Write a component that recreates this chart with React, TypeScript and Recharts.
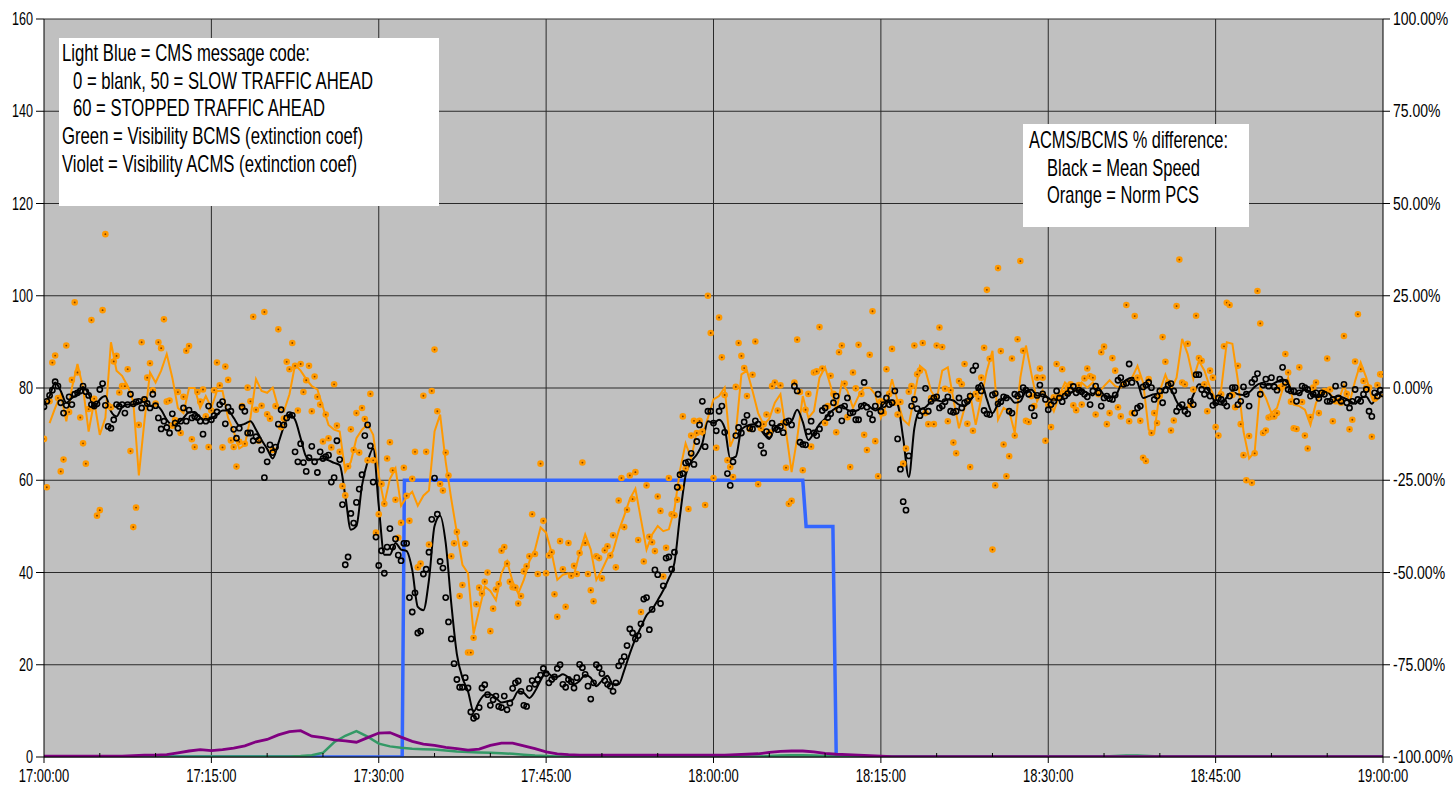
import React from "react";
import {
  CartesianGrid,
  ComposedChart,
  Line,
  Scatter,
  XAxis,
  YAxis,
} from "recharts";

// minutes after 17:00 where the CMS code changes, and the code at that time
const cmsTimes = [0, 32.1, 32.3, 68.0, 68.3, 70.7, 71.0, 120];
const cmsCodes = [0, 0, 60, 60, 50, 50, 0, 0];

// visibility (extinction coef), one value per minute from 17:00 to 19:00
const visBcms = [
  0.1, 0.1, 0.1, 0.1, 0.1, 0.1, 0.1, 0.1, 0.1, 0.1, 0.1, 0.1, 0.1, 0.1, 0.1, 0.1, 0.1, 0.1, 0.1, 0.1,
  0.1, 0.1, 0.1, 0.2, 0.4, 0.9, 3.2, 4.6, 5.6, 4.4, 2.9, 2.3, 2, 1.8, 1.7, 1.6, 1.4, 1.2, 1.1, 1,
  0.9, 0.8, 0.7, 0.5, 0.3, 0.2, 0.1, 0.1, 0.1, 0.1, 0.1, 0.1, 0.1, 0.1, 0.1, 0.1, 0.1, 0.1, 0.1, 0.1,
  0.1, 0.1, 0.1, 0.1, 0.1, 0.2, 0.3, 0.4, 0.4, 0.3, 0.2, 0.1, 0.1, 0.1, 0.1, 0.1, 0.1, 0.1, 0.1, 0.1,
  0.1, 0.1, 0.1, 0.1, 0.1, 0.1, 0.1, 0.1, 0.1, 0.1, 0.1, 0.1, 0.1, 0.1, 0.1, 0.1, 0.2, 0.3, 0.3, 0.2,
  0.1, 0.1, 0.1, 0.1, 0.1, 0.1, 0.1, 0.1, 0.1, 0.1, 0.1, 0.1, 0.1, 0.1, 0.1, 0.1, 0.1, 0.1, 0.1, 0.1,
  0.1,
];
const visAcms = [
  0.2, 0.2, 0.2, 0.2, 0.2, 0.2, 0.2, 0.2, 0.3, 0.4, 0.4, 0.5, 0.9, 1.3, 1.6, 1.4, 1.6, 1.9, 2.4, 3.3,
  3.8, 4.8, 5.5, 5.7, 4.5, 4.2, 3.7, 3.5, 3.2, 4.2, 5.2, 5.3, 4.3, 3.4, 2.8, 2.5, 2.1, 1.8, 1.5, 1.7,
  2.5, 3, 3, 2.4, 1.8, 1.1, 0.7, 0.5, 0.4, 0.4, 0.4, 0.4, 0.4, 0.4, 0.4, 0.4, 0.4, 0.4, 0.4, 0.4,
  0.4, 0.4, 0.5, 0.6, 0.7, 1, 1.2, 1.3, 1.3, 1.1, 0.8, 0.6, 0.5, 0.4, 0.3, 0.2, 0.1, 0.1, 0.1, 0.1,
  0.1, 0.1, 0.1, 0.1, 0.1, 0.1, 0.1, 0.1, 0.1, 0.1, 0.1, 0.1, 0.1, 0.1, 0.1, 0.1, 0.1, 0.1, 0.1, 0.1,
  0.1, 0.1, 0.1, 0.1, 0.1, 0.1, 0.1, 0.1, 0.1, 0.1, 0.1, 0.1, 0.1, 0.1, 0.1, 0.1, 0.1, 0.1, 0.1, 0.1,
  0.1,
];

// ACMS/BCMS % difference, smoothed, every 30 s
const meanSpeedSmooth = [
  -4.5, -2.2, 1.5, -0.8, -4, -2.7, -1.7, 0.3, -1.6, -5.2, -3.1, -2.2, -6.3, -7.7, -5.2, -4.5, -4.5, -4, -3.7, -4.9,
  -4.7, -5.9, -8.6, -10, -9.5, -8.1, -6.6, -6.5, -8, -8.6, -8.3, -7.2, -6.1, -6.1, -8.1, -10.1, -9.7, -9, -11.3, -14.1,
  -16.5, -19.1, -15, -10.4, -7.2, -8.6, -13.6, -18.6, -19.4, -19.4, -19.1, -19.6, -20.3, -20.9, -29.2, -38.4, -37.4, -26.4, -20, -16.4,
  -31.9, -45.2, -45.2, -42, -43.8, -44.2, -49.3, -59.3, -60.2, -52, -37.4, -34.6, -42, -58.4, -72.1, -78.5, -82.2, -87.7, -85, -83.1,
  -83, -84, -85.2, -84.9, -84.5, -82.2, -82.6, -84, -82.2, -79.3, -76.9, -78, -78.3, -77.6, -78.5, -80.3, -79.4, -77.8, -78.5, -80.8,
  -79.3, -78, -80.3, -80.3, -76.5, -72, -68, -64.8, -61.6, -60, -57.5, -54.8, -51.6, -47.4, -34.6, -23.7, -20, -18, -15, -9,
  -9.5, -8.6, -10.8, -19.1, -18.6, -11.3, -10.2, -9.8, -10.4, -12.4, -13.8, -10.7, -10, -10, -9, -5.9, -9.2, -14.1, -12.1, -9.8,
  -8.3, -6.5, -5.4, -4.7, -5.9, -6.3, -5.9, -4, -5.1, -6.1, -5.2, -3.6, -3.4, -4.5, -13.6, -24.1, -10.9, -5.9, -5.2, -3.7,
  -3.3, -3.7, -3.1, -3.4, -4.5, -4.9, -3.4, -1.3, 1.4, -3.1, -6.8, -4.3, -2.8, -2.5, -4, -3.6, -0.8, -0.5, -2.1, -1.7,
  -2.7, -3.4, -2.4, -1.9, -1.3, -0.6, -0.6, -1.3, -2, -0.1, -1.9, -2.4, -2.2, 0.8, 2.2, 2.8, 1.5, -2.7, -2.2, -1.7,
  -2.2, 0.3, -0.4, -3.6, -5.4, -5.2, -1.9, 1, 0.5, -1.3, -4, -4.5, -2.5, -1.1, -1.7, -1.9, -1.2, 0.3, 1.2, 0.8,
  1, 1.7, 2.3, 1.2, -1.7, -1.4, -0.5, -1.1, -2.5, -2.2, -1, -2.5, -2.2, -2.7, -3.4, -4.3, -2.7, -2.4, -4.3, -1.7,
  -1,
];
const normPcsSmooth = [
  null, -9.5, -5.4, -1.7, -9, 0, 6.5, 0, -11.8, -3.6, -12.7, -8.1, 12.4, 4.7, 3.3, 0.5, -3.6, -23.7, -9, 4.2,
  1.5, 4.7, 9.2, 2.8, -5.4, -6.8, 0, 0, -5.4, -2.2, -5.4, -0.8, -0.8, -8.1, -11.8, -16.4, -15.4, -8.1, 2.4, -0.8,
  -1.3, 0.1, -5.4, -6.3, -1.7, 6.3, 4.7, 2.4, 0.5, -0.4, -5.2, -10, -11.3, -11.8, -22.6, -20, -13.6, -11.3, -9.8, -12.7,
  -23.7, -31.4, -24.6, -21.8, -31.9, -29.6, -28.1, -31.9, -29.2, -27.8, -11.8, -7.2, -20, -30.1, -39.2, -47.9, -50.2, -66.6, -60.2, -53.8,
  -55, -57.5, -50.2, -47, -52.5, -55.7, -52, -47, -43.8, -37.8, -39.2, -44.7, -52, -50.6, -50.2, -50.6, -44.7, -39.7, -43.8, -52,
  -49.3, -46.1, -44.2, -38.8, -34.6, -30.1, -27.3, -35.6, -43.8, -39.7, -37.4, -38.8, -38.3, -32.8, -22.3, -15, -19.1, -11.8, -12.7, -8.1,
  -3.1, -2.2, 0.1, -15.9, -12.2, 3.7, 4.7, -0.8, -6.8, -10, -8.3, -4, -1.7, -11.8, -22.8, -13.6, -2.2, -8.1, -6.3, 2.8,
  5.6, 0.5, -6.3, 1.5, -0.8, -5.4, -2.2, 0.1, 0.1, -1.7, -8.1, -4.5, 2.4, -3.6, -8.6, -10, -2.2, 6, 4.7, -0.8,
  -3.1, 4.7, 5.6, -3.1, -10.9, -5.4, -1.7, -10, -2.7, 4.7, 10.1, -8.6, -5.4, -6.3, -12.2, 2.8, 11.5, 3.7, -3.6, -0.6,
  -3.1, -6.3, -1.9, 1.5, 0.1, -0.8, 1.5, 0.1, 1.5, -1.3, 0.5, 2.1, 0.5, 0.1, 1.7, 2.7, 6, 1.5, -11.3, -12.2,
  -0.8, 3.6, -0.4, 2.8, 13.3, 9.2, 2.4, 7.4, 4.7, 0.1, -3.1, -0.4, 12.4, 12, 1.9, -11.8, -19.1, -17.3, 0.1, -2.7,
  -6.8, -5.4, -0.4, 2.8, -4.5, -4.9, -5.9, -10, -4, -1.6, -0.8, -2.4, -3.6, 0.8, -4, 1.9, 6.9, 2.8, -2.7, -3.1,
  -1.7,
];

// ACMS/BCMS % difference, raw, every 15 s
const meanSpeedRaw = [
  -5.1, -3.6, -2, -0.6, 1.7, 0.5, -4, -6.8, -4.7, -2.4, -4.5, -1.7, -1.3, -0.8, 0.5, -1, -2, -4.5, -4.9, -4.3,
  -0.4, 1.2, -4.7, -10.4, -10.9, -8.6, -4.5, -5, -4.5, -6.8, -4.5, -1.7, -4.3, -3.8, -3.6, -5.4, -3.1, -4.2, -5.4, -1.7,
  -4.8, -8.1, -11.1, -9, -10.7, -12.2, -7, -9.5, -10.9, -9, -5.4, -9, -6, -8.1, -7.7, -8, -9, -12.5, -9, -4.9,
  -8.6, -7.5, -6.5, -4.5, -3.7, -9.7, -5.2, -6.3, -11.2, -13.6, -10.9, -5.2, -6.3, -12.2, -12.2, -14.3, -13.2, -14.1, -16.8, -24.3,
  -20, -15.4, -17.5, -16, -9.8, -5.9, -10, -8.1, -7.2, -7.4, -17.3, -20, -15.1, -20.2, -22.6, -18.9, -15.8, -20, -22.9, -17.3,
  -19.1, -18.6, -18.2, -25.5, -24.3, -14.3, -19.4, -31.6, -47.9, -45.8, -34, -36.6, -31, -27.4, -23.5, -12.9, -10, -15.7, -25.5, -40.4,
  -48.1, -44.1, -50.2, -43.1, -38.1, -43.1, -40.9, -45.3, -46.8, -42.1, -42.1, -56.8, -60.7, -55.5, -66.4, -65.9, -50.4, -49.1, -44.5, -35.6,
  -24.4, -34.2, -47, -48.8, -56.8, -63.4, -68, -74.7, -79, -81.1, -81.1, -78.5, -81.3, -87.8, -89.5, -89, -86.6, -81.3, -80.4, -83.1,
  -86, -84.5, -83.5, -86.3, -86.6, -83.5, -87.2, -85.4, -81.4, -79.9, -79.4, -82.2, -86, -86.3, -81.4, -79.3, -80.3, -79, -77.8, -76,
  -77.4, -79.9, -79, -78.3, -76, -75, -80.3, -81.1, -79, -79.6, -81.3, -78.5, -74.9, -75.8, -77.6, -80.8, -84.3, -79.9, -75, -75.8,
  -77.4, -79.3, -80.3, -80.8, -82.2, -79.9, -75.3, -74, -72.8, -69.8, -65.3, -66.4, -68, -67.1, -63.9, -57.2, -56.8, -65.5, -60, -49.3,
  -50.6, -58.4, -53.6, -46.1, -45.8, -49.1, -44.5, -26.9, -23.5, -23.2, -20.3, -20, -17.7, -20.7, -14.5, -10, -3.6, -15.9, -6.3, -6.3,
  -9.5, -11.6, -6.3, -4.9, -12, -23.2, -26.4, -20, -12.9, -10.7, -12.2, -9.2, -7.4, -10.9, -11.1, -8.9, -9.8, -15.6, -17.6, -11.8,
  -12.7, -9.5, -10.9, -11.3, -10.4, -12.1, -9.2, -8.9, -10, 0.5, -0.8, -14.7, -15.3, -15.4, -11.8, -9, -12.2, -12.9, -11.1, -6.1,
  -5.4, -8, -7, -4, -2.2, -5.9, -8.9, -4.9, -2.7, -6.8, -6.6, -8.6, -8.6, -4.9, 1.5, -5.2, -7, -8.6, -4.9, -1.7,
  -6.3, -4.5, -2.7, -4.5, -4, -0.8, -13.8, -22, -30.8, -33.1, -18.4, -4.9, -3.1, -5.6, -7.5, -6.3, -0.1, -6.3, -3.6, -2.7,
  -2.4, -5.4, -4.9, -3.7, -2.4, -6.3, -6.6, -6.3, -2.7, -5.4, -4, -3.6, -2.2, 4.8, 6, 0.1, -0.8, -6.1, -7, -7.2,
  -1.9, -1.5, -4.3, -3.7, -2.4, -2.7, -6.3, -6.8, -1.7, -2.2, -1.7, 0.1, -0.6, -1.7, -5.4, -7.5, -2, 0.8, -1.6, -3.1,
  -5.9, -4.5, -3.6, -0.8, -2.7, -3.7, -2.2, -1.5, -0.6, 0.4, -1.3, -0.6, -1, -1.7, -2.4, -4.5, -0.8, 0.5, -1.3, -4.9,
  -2.7, -2.2, -2.9, -3.1, -1.9, 2.1, 2.8, 1, 1.3, 6.5, 1.5, -6.8, -5.4, -4.9, 0.3, 0.8, 1.5, 0.1, -3.1, -2.2,
  -0.8, -4, -0.6, 0.8, 1.2, -0.8, -6.3, -5.2, -4.5, -6.3, -7, -3.6, -4.5, 3.6, 3.6, -0.4, -1.7, -0.6, -2.2, -4.7,
  -4, -2.7, -3.1, -4, -4.9, -2.2, 0.1, 0.1, -4.5, -3.6, 0.3, -1.7, -4.9, 1.5, 2.4, 3.9, -1.7, 0.8, 2.4, 0.5,
  2.8, 0.3, -0.6, 2.4, 5.6, 1.5, -0.4, -0.8, -0.8, -3.6, -1.3, 0.5, 0.1, -0.4, -2.2, -1.7, -1.3, -2.8, -1.3, -1.7,
  -3.6, -3.6, -3.1, 0.5, -2.7, -3.6, 1, -4, -5.4, -3.6, -0.4, -3.1, -3.6, -1.7, -0.4, -6.3, -7.7, -1.3, -2.2, -0.6,
  -1.6,
];
const normPcsRaw = [
  -13.8, -26.9, -3.6, 6.9, 8.8, -2.7, -22.6, -19.4, 11.5, -6.5, 2.2, 23.2, 4.2, -8, -15, -20.5, -5.7, 18.4, -2.9, -34.6,
  -33.1, 21.1, 41.7, -4.8, -5.2, 7.2, 8.7, -1.2, 0.5, 0.5, 5.1, -17.1, -37.7, -32.4, -10, 12.4, -3.1, 2.8, 6.7, -0.6,
  -4.2, 12.4, 10.8, 18.6, -3.7, -3.4, -10.2, -8.7, -1.1, -12.2, -2.4, 10.1, 11.4, -13.9, -16, -1.1, -3.7, -0.4, -7.7, -16,
  -6.1, -0.6, 6.9, 0.7, -16.1, 5.8, 2.2, -14.2, -16, -21.3, -14.6, -4.9, -15.1, 0.1, -3.6, 19.3, -5.9, -14.3, -4.8, 20.6,
  -7.1, -8.3, -16.8, -4.9, 15.9, -10.6, -8.3, 7.1, 5.1, 12.2, 6, -6.1, 6.5, -1.1, 2.1, 6, -6.3, 3.1, -2.4, -4.5,
  -14.5, -7.2, -13.6, -16.1, 1, -10.2, -17.3, -26.6, -29.1, -21.2, -11.2, -16.8, -6.8, -17.5, -5.4, -8.4, -19.6, -1.6, -19.6, -39.2,
  -34.2, -26, -31.4, -19.1, -14.7, -22.3, -30.3, -40.6, -36.5, -21.6, -29.2, -36, -24.6, -17.3, -48.6, -47.6, -2.1, -17.3, -42.4, -0.8,
  10.4, -6.3, -26, -27.8, -17.5, -23.7, -45.6, -42.1, -39, -56.4, -53.4, -42.2, -71.7, -71.7, -67.7, -58.6, -54.1, -55.7, -52.5, -50,
  -65.9, -59.8, -54.6, -53.1, -44.1, -43.1, -47.6, -52.5, -54, -54.1, -58.4, -56.4, -49.7, -48.3, -45.6, -34.2, -45, -50.4, -20.5, -36,
  -50.2, -45.4, -44.5, -55.9, -62, -41.5, -49.1, -59.3, -42, -50.9, -48.2, -50.4, -44.7, -20.2, -42, -50.4, -54.8, -57.8, -45.6, -46.1,
  -51.6, -44, -42.9, -45.4, -39.9, -48.6, -30.5, -24.4, -37.7, -33, -23.7, -30.1, -22.8, -41.2, -60.7, -47, -26.4, -40.3, -41.8, -44.2,
  -29.4, -33.3, -51.1, -43.3, -24.4, -34.2, -34.5, -30.3, -27, -7.7, -21.8, -32.8, -12.9, -8.9, -12.2, -8.9, -11.8, -31.7, 25, 14.9,
  -24.4, -16.2, 19.1, 8.3, -1.9, -19.6, -21.4, -24.1, 0.3, 12.2, 8.7, 5.4, -2.2, -11.1, 3.6, 12.6, -26.1, -10.9, -9.8, -7.2,
  -12, 0.5, 1.5, -6.1, 0.7, -9.5, -21.6, -31.4, -30.6, 1.5, 13.1, -1.1, -22.3, -5.9, -1.6, -15.9, 4.2, 4.5, 16.5, 5.3,
  -9.5, -4.9, 3.3, -1.6, -12, 9.7, 11.5, 1.2, -7.9, -21.4, 4.2, -0.1, 11.7, -1.6, -12.7, -16.8, 9, 20.8, -14.4, -23.9,
  -3.6, -6.8, 5.1, -1.6, 10.6, -4, -7.2, -3.8, -20.5, -16.4, -1, 0.5, 11.5, 3.7, 4.7, 12.2, -6.8, -9.8, -2.7, -9.8,
  11.5, 16.4, 11.1, -0.2, -9, -0.6, -14.8, -17.7, 1.9, 1, 6.5, -9.7, -21.4, -11.6, -1.6, -2.9, 2.8, 10.9, 26.6, 7.9,
  -43.8, -26.4, 32.5, 10, -15.3, -23.9, -18.5, 8, -12.9, 13.2, 34.4, 10.1, -8.9, -9.2, -2.2, -4.9, 2.8, 5.3, 2.8, -14.3,
  -4.5, -10.6, -2.5, 6.5, -2.2, 5.1, -1.3, 0.1, 1, -4.7, -6, 0.8, -4.5, 2.6, 5.3, 3.2, 2.8, -7.2, -1.7, 9.7,
  11.2, -9.8, -6.8, 8.1, 4.7, -5.2, -7.7, 1, 22.5, -9, -6.8, 19.5, 2.8, -8.9, -18.9, -19.8, 2.4, -12.2, -6.8, -9.5,
  -2.2, 13.8, 7.1, 1.5, -11.5, -8.8, 22.2, 34.8, 1.5, 1, 12, -4.7, -0.4, 19.6, 8.1, 7.4, 1, -6.3, 4.7, 2.8,
  -10.6, -12.9, -1.7, 11.3, 23.1, 22.5, -1.9, -5.2, 6, -9.8, -18.2, -25, -13, -25.7, -17.7, 26.3, 17.5, -12.2, -11.5, -8,
  -7.7, -7.7, -6.8, 0.1, 0.5, 9.2, 4.2, -3.7, -10.9, -11.1, 5.6, -3.8, -12.9, -16.4, -7.9, 0.1, 1.5, -6.8, -1.3, -0.8,
  8, -0.4, -9, -3.6, -3.6, -4, 14.1, -1.6, -11.2, -8.6, 7.2, 20, 5.1, 1.9, 0.1, 0.1, -13.2, -2.9, 0.8, 3.7,
  3.7,
];

const timeTicks = [0, 5, 10, 15, 20, 25, 30, 35, 40, 45, 50, 55, 60, 65, 70, 75, 80, 85, 90, 95, 100, 105, 110, 115, 120];
const timeLabels = ["17:00:00", "17:15:00", "17:30:00", "17:45:00", "18:00:00", "18:15:00", "18:30:00", "18:45:00", "19:00:00"];
const gridMinutes = [15, 30, 45, 60, 75, 90, 105];
const leftTicks = [0, 20, 40, 60, 80, 100, 120, 140, 160];
const rightTicks = [-100, -75, -50, -25, 0, 25, 50, 75, 100];

const FONT = "'Liberation Sans', Arial, sans-serif";

const sampled = (vals: (number | null)[], stepMin: number) =>
  vals.map((v, i) => ({ t: i * stepMin, v }));

const cmsData = cmsTimes.map((t, i) => ({ t, v: cmsCodes[i] }));
const bcmsData = sampled(visBcms, 1);
const acmsData = sampled(visAcms, 1);
const speedLineData = sampled(meanSpeedSmooth, 0.5);
const pcsLineData = sampled(normPcsSmooth, 0.5);
const speedDotData = sampled(meanSpeedRaw, 0.25);
const pcsDotData = sampled(normPcsRaw, 0.25);

// narrow text: squeeze horizontally around the anchor point
const Narrow = ({ x, y, squeeze, anchor, children }: any) => (
  <text
    transform={`translate(${x},${y}) scale(${squeeze},1)`}
    x={0}
    y={0}
    textAnchor={anchor}
    fontSize={17.5}
    fontFamily={FONT}
    fill="#000"
  >
    {children}
  </text>
);

function TimeTick(props: any) {
  const { x, y, payload } = props;
  const m = payload.value as number;
  if (m % 15 !== 0) {
    return <line x1={x} x2={x} y1={y} y2={y - 4} stroke="#000" />;
  }
  return (
    <g>
      <line x1={x} x2={x} y1={y} y2={y + 6} stroke="#000" />
      <Narrow x={x} y={y + 25} squeeze={0.74} anchor="middle">
        {timeLabels[m / 15]}
      </Narrow>
    </g>
  );
}

function LeftTick(props: any) {
  const { x, y, payload } = props;
  return (
    <g>
      <line x1={x - 8} x2={x} y1={y} y2={y} stroke="#000" />
      <Narrow x={x - 11} y={y + 6} squeeze={0.72} anchor="end">
        {String(payload.value)}
      </Narrow>
    </g>
  );
}

function RightTick(props: any) {
  const { x, y, payload } = props;
  return (
    <g>
      <line x1={x} x2={x + 7} y1={y} y2={y} stroke="#000" />
      <Narrow x={x + 10} y={y + 6} squeeze={0.8} anchor="start">
        {`${(payload.value as number).toFixed(2)}%`}
      </Narrow>
    </g>
  );
}

const OrangeDot = (p: any) => (
  <g>
    <circle cx={p.cx} cy={p.cy} r={3.3} fill="#FF9900" />
    <circle cx={p.cx} cy={p.cy} r={0.9} fill="#7a3d00" />
  </g>
);

const BlackDot = (p: any) => (
  <circle cx={p.cx} cy={p.cy} r={2.6} fill="none" stroke="#000" strokeWidth={1.6} />
);

const notes = [
  { x: 62, y: 61, w: 248, text: "Light Blue = CMS message code:" },
  { x: 73, y: 89, w: 300, text: "0 = blank, 50 = SLOW TRAFFIC AHEAD" },
  { x: 73, y: 116, w: 252, text: "60 = STOPPED TRAFFIC AHEAD" },
  { x: 62, y: 144, w: 301, text: "Green = Visibility BCMS (extinction coef)" },
  { x: 62, y: 172, w: 295, text: "Violet = Visibility ACMS (extinction coef)" },
  { x: 1029, y: 148, w: 199, text: "ACMS/BCMS % difference:" },
  { x: 1047, y: 176, w: 153, text: "Black = Mean Speed" },
  { x: 1047, y: 203, w: 152, text: "Orange = Norm PCS" },
];

export default function App() {
  return (
    <div style={{ position: "absolute", left: 0, top: 0, width: 1455, height: 794, background: "#fff" }}>
      <ComposedChart width={1455} height={794} margin={{ top: 19, right: 0, bottom: 1, left: 0 }}>
        <CartesianGrid
          xAxisId="time"
          yAxisId="left"
          fill="#C0C0C0"
          fillOpacity={1}
          stroke="#2a2a2a"
          verticalValues={gridMinutes}
        />
        <XAxis
          xAxisId="time"
          dataKey="t"
          type="number"
          domain={[0, 120]}
          ticks={timeTicks}
          interval={0}
          height={36}
          tickSize={0}
          tickMargin={0}
          tickLine={false}
          axisLine={{ stroke: "#000" }}
          tick={<TimeTick />}
          allowDataOverflow
        />
        <YAxis
          yAxisId="left"
          dataKey="v"
          domain={[0, 160]}
          ticks={leftTicks}
          interval={0}
          width={44}
          tickSize={0}
          tickMargin={0}
          tickLine={false}
          axisLine={{ stroke: "#000" }}
          tick={<LeftTick />}
          allowDataOverflow
        />
        <YAxis
          yAxisId="pct"
          orientation="right"
          dataKey="v"
          domain={[-100, 100]}
          ticks={rightTicks}
          interval={0}
          width={72}
          tickSize={0}
          tickMargin={0}
          tickLine={false}
          axisLine={{ stroke: "#000" }}
          tick={<RightTick />}
          allowDataOverflow
        />
        <Line
          data={cmsData}
          xAxisId="time"
          yAxisId="left"
          dataKey="v"
          type="linear"
          stroke="#3366FF"
          strokeWidth={3.5}
          dot={false}
          activeDot={false}
          isAnimationActive={false}
        />
        <Line
          data={bcmsData}
          xAxisId="time"
          yAxisId="left"
          dataKey="v"
          type="linear"
          stroke="#339966"
          strokeWidth={2.5}
          dot={false}
          activeDot={false}
          isAnimationActive={false}
        />
        <Line
          data={acmsData}
          xAxisId="time"
          yAxisId="left"
          dataKey="v"
          type="linear"
          stroke="#800080"
          strokeWidth={2.8}
          dot={false}
          activeDot={false}
          isAnimationActive={false}
        />
        <Line
          data={pcsLineData}
          xAxisId="time"
          yAxisId="pct"
          dataKey="v"
          type="linear"
          stroke="#FF9900"
          strokeWidth={2}
          dot={false}
          activeDot={false}
          isAnimationActive={false}
        />
        <Line
          data={speedLineData}
          xAxisId="time"
          yAxisId="pct"
          dataKey="v"
          type="monotone"
          stroke="#000"
          strokeWidth={2}
          dot={false}
          activeDot={false}
          isAnimationActive={false}
        />
        <Scatter
          data={pcsDotData}
          xAxisId="time"
          yAxisId="pct"
          dataKey="v"
          shape={OrangeDot}
          isAnimationActive={false}
        />
        <Scatter
          data={speedDotData}
          xAxisId="time"
          yAxisId="pct"
          dataKey="v"
          shape={BlackDot}
          isAnimationActive={false}
        />
      </ComposedChart>
      <svg
        width={1455}
        height={794}
        style={{ position: "absolute", left: 0, top: 0, pointerEvents: "none" }}
      >
        <rect x={59} y={38} width={380} height={168} fill="#fff" />
        <rect x={1023} y={124} width={226} height={103} fill="#fff" />
        {notes.map((n) => (
          <text
            key={n.text}
            x={n.x}
            y={n.y}
            fontSize={24}
            fontFamily={FONT}
            fill="#000"
            textLength={n.w}
            lengthAdjust="spacingAndGlyphs"
          >
            {n.text}
          </text>
        ))}
      </svg>
    </div>
  );
}
